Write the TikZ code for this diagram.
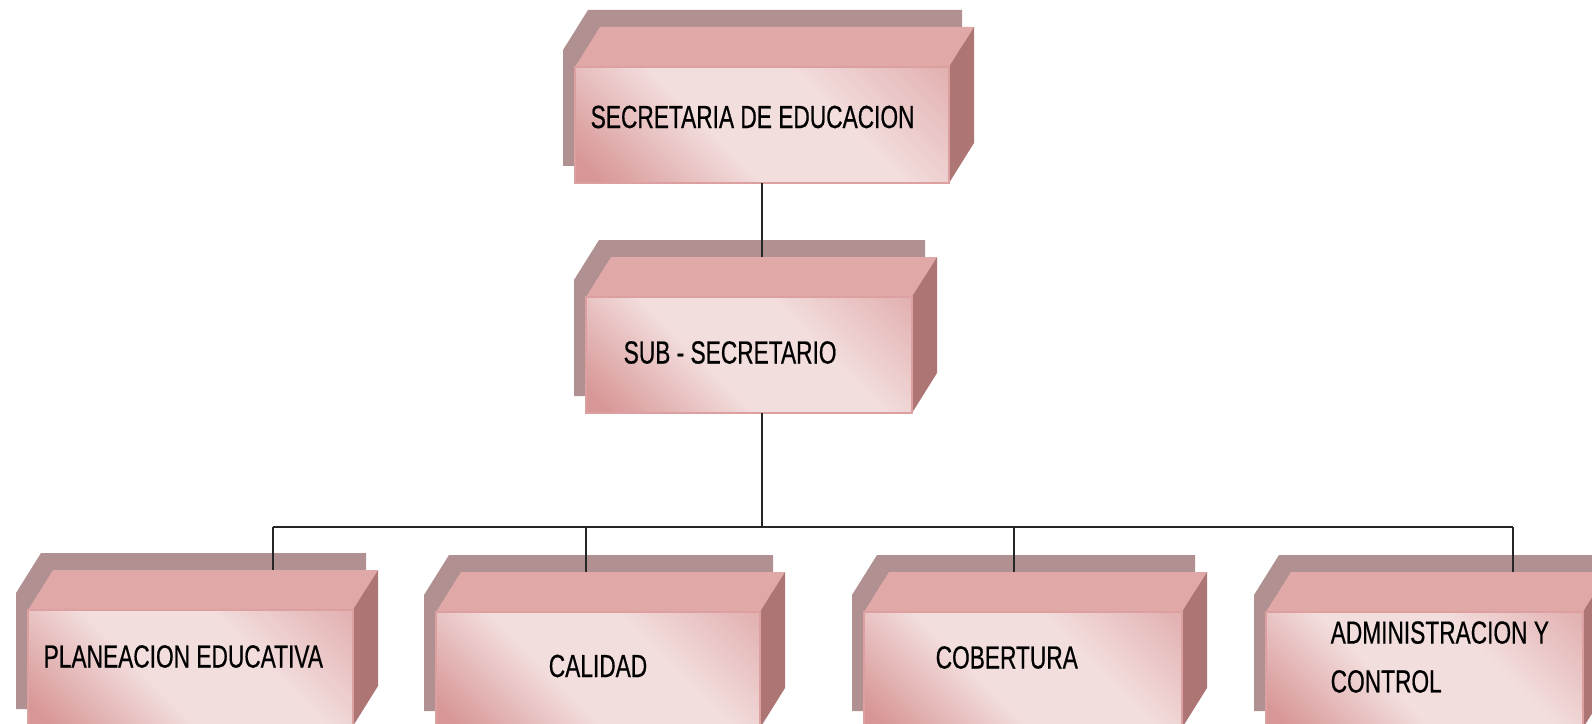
\documentclass[tikz,border=0pt]{standalone}
\usepackage{fontspec}
\newfontfamily\angosta{Liberation Sans}[FakeStretch=0.71, FakeBold=0.5]
\usetikzlibrary{calc}
\usetikzlibrary{backgrounds}

\definecolor{rosaclaro}{RGB}{243,222,222}
\definecolor{rosaoscuro}{RGB}{216,150,150}
\definecolor{rosamedio}{RGB}{226,176,176}
\definecolor{rosaborde}{RGB}{220,160,160}
\definecolor{coltecho}{RGB}{225,168,168}
\definecolor{collado}{RGB}{173,118,116}
\definecolor{colsombra}{RGB}{176,144,144}

\pgfdeclarehorizontalshading{frente}{100bp}{color(0bp)=(rosaoscuro); color(18bp)=(rosaoscuro); color(42bp)=(rosaclaro); color(62bp)=(rosaclaro); color(85bp)=(rosamedio); color(100bp)=(rosamedio)}

\tikzset{
    cara/.style={rectangle, draw=rosaborde, line width=0.4pt, shade, shading=frente, shading angle=45, minimum height=11.6mm, inner sep=0pt, outer sep=0pt},
    rotulo/.style={inner sep=0pt, anchor=west, font=\angosta\fontsize{9.1}{13.9}\selectfont},
    linea/.style={line width=0.6pt, black!85}
}

\begin{document}
\begin{tikzpicture}[x=0.1mm, y=-0.1mm]
                \useasboundingbox (0,0) rectangle (1592,724);

                \node[cara, minimum width=37.4mm] (sec) at (762,125) {};
                \node[cara, minimum width=32.6mm] (sub) at (749,355) {};
                \node[cara, minimum width=32.5mm] (plan) at (190.5,668) {};
                \node[cara, minimum width=32.4mm] (cal) at (598,670) {};
                \node[cara, minimum width=31.8mm] (cob) at (1023,670) {};
                \node[cara, minimum width=31.7mm] (adm) at (1424.5,670) {};

                \begin{scope}[on background layer]
                \foreach \n in {sec,sub,plan,cal,cob,adm}{
                    \fill[colsombra] ($(\n.south west)+(-12,-17)$) -- ($(\n.north west)+(-12,-17)$) -- ($(\n.north west)+(13,-57)$) -- ($(\n.north east)+(13,-57)$) -- ($(\n.south east)+(13,-57)$) -- ($(\n.south east)+(-12,-17)$) -- cycle;
                    \fill[coltecho] (\n.north west) -- ($(\n.north west)+(25,-40)$) -- ($(\n.north east)+(25,-40)$) -- (\n.north east) -- cycle;
                    \fill[collado] (\n.north east) -- ($(\n.north east)+(25,-40)$) -- ($(\n.south east)+(25,-40)$) -- (\n.south east) -- cycle;
                    \coordinate (\n-top) at ($(\n.north)+(25,-40)$);
                }
                \end{scope}

                \node[rotulo] (sec-t) at ($(sec.west)+(15,-8)$) {SECRETARIA DE EDUCACION};
                \node[rotulo] (sub-t) at ($(sub.west)+(37,-2.5)$) {SUB - SECRETARIO};
                \node[rotulo] (plan-t) at ($(plan.west)+(15,-11.5)$) {PLANEACION EDUCATIVA};
                \node[rotulo, anchor=center] (cal-t) at ($(cal.center)+(0,-4)$) {CALIDAD};
                \node[rotulo] (cob-t) at ($(cob.west)+(71,-12.5)$) {COBERTURA};
                \node[rotulo, align=left] (adm-t) at ($(adm.west)+(64,-13)$) {ADMINISTRACION Y\\CONTROL};

                \coordinate (barra) at (0,527);
                \coordinate (b-plan) at (273,527);
                \coordinate (b-cal) at (586,527);
                \coordinate (b-cob) at (1014,527);
                \coordinate (b-adm) at (1513,527);

                \draw[linea] (sec.south) -- (sec.south |- sub-top);
                \draw[linea] (sec.south |- sub.south) -- (sec.south |- barra);
                \draw[linea] (b-plan) -- (b-adm);
                \foreach \n in {plan,cal,cob,adm}
                    \draw[linea] (b-\n) -- (b-\n |- \n-top);
\end{tikzpicture}
\end{document}
